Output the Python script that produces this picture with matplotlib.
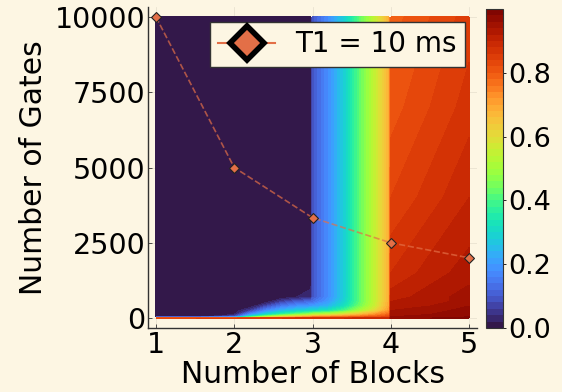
import matplotlib
matplotlib.use("Agg")
import matplotlib.pyplot as plt
from matplotlib.lines import Line2D
import numpy as np

# background / colours
bg = "#fdf6e3"
line_colour = "#e36f47"

# grid of the heat map
blocks_grid = [1.0, 1.5, 2.0, 2.2, 2.4, 2.6, 2.8, 2.98, 3.0, 3.2, 3.4, 3.6, 3.8, 3.98, 4.0, 4.5, 5.0]
gates_grid = [0, 40, 120, 250, 400, 550, 700, 1500, 4000, 7000, 10000]
fidelity = [
    [0.84, 0.84, 0.85, 0.85, 0.86, 0.86, 0.87, 0.87, 0.88, 0.88, 0.88, 0.89, 0.90, 0.90, 0.97, 0.98, 0.99],
    [0.00, 0.00, 0.10, 0.35, 0.50, 0.60, 0.66, 0.70, 0.72, 0.74, 0.76, 0.78, 0.80, 0.82, 0.96, 0.97, 0.98],
    [0.00, 0.00, 0.02, 0.18, 0.30, 0.38, 0.45, 0.50, 0.52, 0.55, 0.60, 0.66, 0.72, 0.78, 0.95, 0.96, 0.97],
    [0.00, 0.00, 0.00, 0.06, 0.17, 0.24, 0.28, 0.30, 0.30, 0.33, 0.40, 0.50, 0.60, 0.72, 0.94, 0.95, 0.97],
    [0.00, 0.00, 0.00, 0.00, 0.07, 0.14, 0.18, 0.20, 0.20, 0.24, 0.32, 0.44, 0.56, 0.70, 0.93, 0.94, 0.96],
    [0.00, 0.00, 0.00, 0.00, 0.00, 0.06, 0.10, 0.12, 0.13, 0.20, 0.29, 0.42, 0.55, 0.69, 0.92, 0.93, 0.95],
    [0.00, 0.00, 0.00, 0.00, 0.00, 0.00, 0.02, 0.03, 0.09, 0.18, 0.28, 0.42, 0.55, 0.69, 0.91, 0.93, 0.95],
    [0.00, 0.00, 0.00, 0.00, 0.00, 0.00, 0.00, 0.00, 0.09, 0.18, 0.28, 0.42, 0.55, 0.69, 0.88, 0.91, 0.93],
    [0.00, 0.00, 0.00, 0.00, 0.00, 0.00, 0.00, 0.00, 0.09, 0.18, 0.28, 0.42, 0.55, 0.69, 0.84, 0.87, 0.90],
    [0.00, 0.00, 0.00, 0.00, 0.00, 0.00, 0.00, 0.00, 0.09, 0.18, 0.28, 0.42, 0.55, 0.69, 0.81, 0.84, 0.87],
    [0.00, 0.00, 0.00, 0.00, 0.00, 0.00, 0.00, 0.00, 0.09, 0.18, 0.28, 0.42, 0.55, 0.69, 0.79, 0.82, 0.85],
]

# T1 = 10 ms curve
blocks = [1, 2, 3, 4, 5]
gates = [10000, 5000, 3333, 2500, 2000]

x_ticks = [1, 2, 3, 4, 5]
y_ticks = [0, 2500, 5000, 7500, 10000]
cbar_ticks = [0.0, 0.2, 0.4, 0.6, 0.8]

fig = plt.figure(figsize=(5.62, 3.92), dpi=100, facecolor=bg)
ax = fig.add_axes([0.2633, 0.1633, 0.5855, 0.8187], facecolor=bg)
cax = fig.add_axes([0.8648, 0.1633, 0.0302, 0.8137])

X, Y = np.meshgrid(blocks_grid, gates_grid)
cf = ax.contourf(X, Y, np.array(fidelity), levels=np.linspace(0, 1, 51),
                 cmap="turbo", vmin=0, vmax=1, zorder=1)

ax.plot(blocks, gates, "--", color=line_colour, alpha=0.7, lw=1.2, zorder=3)
ax.plot(blocks, gates, "D", color=line_colour, markersize=5,
        markeredgecolor="#222222", markeredgewidth=0.8, zorder=4)

handle = Line2D([], [], color=line_colour, lw=1.5, marker="D", markersize=17,
                markerfacecolor=line_colour, markeredgecolor="black", markeredgewidth=4)
leg = ax.legend([handle], ["T1 = 10 ms"], loc="upper right", fontsize=20,
                frameon=True, fancybox=False, framealpha=1, facecolor=bg,
                edgecolor="#333333", handlelength=2.05, handletextpad=0.72,
                borderpad=0.3, borderaxespad=0, bbox_to_anchor=(0.9635, 0.953))
leg.get_frame().set_linewidth(1.0)
leg.set_zorder(5)

ax.set_xlim(0.898, 5.102)
ax.set_ylim(-330, 10330)
ax.set_xticks(x_ticks)
ax.set_yticks(y_ticks)
ax.tick_params(labelsize=20.5, direction="in", length=3, width=0.6, color="#333333", pad=2)
ax.grid(True, color="#000000", alpha=0.08, lw=0.6)
ax.set_axisbelow(True)
for side in ["top", "right"]:
    ax.spines[side].set_visible(False)
for side in ["left", "bottom"]:
    ax.spines[side].set_color("#333333")
    ax.spines[side].set_linewidth(1.0)

ax.set_xlabel("Number of Blocks", fontsize=21.5, labelpad=1)
ax.set_ylabel("Number of Gates", fontsize=21.5, labelpad=5)

cb = fig.colorbar(cf, cax=cax, ticks=cbar_ticks)
cb.ax.set_ylim(0, 1)
cb.ax.tick_params(labelsize=19.5, length=2, width=0.6, pad=2)
cb.ax.set_yticklabels(["0.0", "0.2", "0.4", "0.6", "0.8"])
cb.outline.set_edgecolor("#333333")

fig.savefig("out.png", dpi=100, facecolor=bg)
